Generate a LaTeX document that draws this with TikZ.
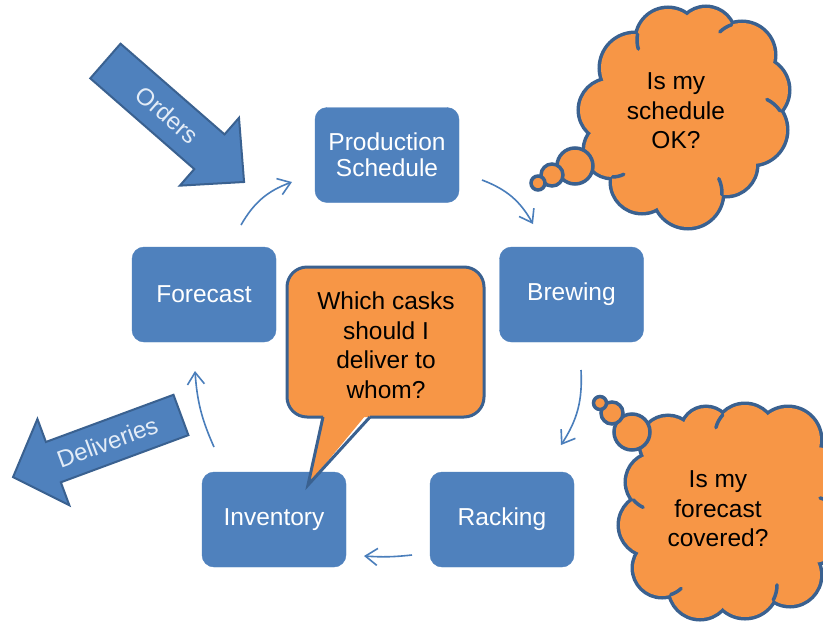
\documentclass[tikz,border=0pt]{standalone}
\usepackage{fontspec}
\setmainfont{Liberation Sans}
\usetikzlibrary{arrows.meta,calc}
\definecolor{boxblue}{HTML}{4F81BD}
\definecolor{edgeblue}{HTML}{3A6190}
\definecolor{linkblue}{HTML}{4A7EBB}
\definecolor{thought}{HTML}{F79646}
\definecolor{arrowtext}{HTML}{E3ECF7}

% short inner arc where two puffs of a cloud meet:
% puff 1 = (#1,#2) radius #3, puff 2 = (#4,#5) radius #6, sweep #7 degrees
\newcommand{\puffstub}[7]{%
  \pgfmathsetmacro{\cldx}{#4-#1}\pgfmathsetmacro{\cldy}{#5-#2}%
  \pgfmathsetmacro{\cld}{veclen(\cldx,\cldy)}%
  \pgfmathsetmacro{\cla}{(#3*#3-#6*#6+\cld*\cld)/(2*\cld)}%
  \pgfmathsetmacro{\clh}{sqrt(max(#3*#3-\cla*\cla,0))}%
  \pgfmathsetmacro{\clcx}{#1+\cla*\cldx/\cld+\clh*\cldy/\cld}%
  \pgfmathsetmacro{\clcy}{#2+\cla*\cldy/\cld-\clh*\cldx/\cld}%
  \pgfmathsetmacro{\clang}{atan2(\clcy-#5,\clcx-#4)}%
  \draw[puffline] (\clcx,\clcy) arc[start angle=\clang, delta angle=-#7, radius=#6];%
}

\begin{document}
\begin{tikzpicture}[x=1pt,y=-1pt,
  stage/.style={rectangle, rounded corners=12pt, fill=boxblue, draw=boxblue,
    text=white, minimum width=144pt, minimum height=95pt, inner sep=0pt,
    align=center, font=\fontsize{24.5}{26}\selectfont},
  link/.style={draw=linkblue, line width=1.6pt,
    -{Straight Barb[length=12pt,width=17pt]}},
  blockarrow/.style={fill=boxblue, draw=edgeblue, line width=2pt, line join=miter},
  arrowlabel/.style={text=arrowtext, inner sep=0pt, font=\fontsize{24}{26}\selectfont},
  puffline/.style={draw=edgeblue, line width=3.5pt, line cap=round},
  bubble/.style={circle, fill=thought, draw=edgeblue, line width=3.5pt, inner sep=0pt},
  qtext/.style={align=center, inner sep=0pt, text=black,
    font=\fontsize{24.5}{29.5}\selectfont},
]
\fill[white] (0,0) rectangle (823,622);
\useasboundingbox (0,0) rectangle (823,622);

% process stages
\node[stage] (ps) at (387,155)   {Production\\Schedule};
\node[stage] (br) at (571.5,294.5) {Brewing};
\node[stage] (rk) at (502,519.5) {Racking};
\node[stage] (inv) at (274,519.5) {Inventory};
\node[stage] (fc) at (204,294.5) {Forecast};

% end points of the cycle links
\coordinate (fc-out) at (241,225);  \coordinate (ps-in) at (292,182);
\coordinate (ps-out) at (482,180);  \coordinate (br-in) at (533,224);
\coordinate (br-out) at (581,370);  \coordinate (rk-in) at (561,445);
\coordinate (rk-out) at (412,555);  \coordinate (inv-in) at (364,556);
\coordinate (inv-out) at (214,447); \coordinate (fc-in) at (195,371);

\draw[link] (fc-out) to[bend left=20] (ps-in);
\draw[link] (ps-out) to[bend left=20] (br-in);
\draw[link] (br-out) to[bend left=18] (rk-in);
\draw[link] (rk-out) to[bend left=5] (inv-in);
\draw[link] (inv-out) to[bend left=10] (fc-in);

% incoming orders
\begin{scope}[shift={(174.75,121.5)}, rotate=-41.1]
  \draw[blockarrow] (-92,-23) -- (46,-23) -- (46,-45) -- (92,0)
    -- (46,45) -- (46,23) -- (-92,23) -- cycle;
  \node[arrowlabel, rotate=-41.1] (orders) at (-10,0) {Orders};
\end{scope}

% outgoing deliveries
\begin{scope}[shift={(97,446)}, rotate=200.3]
  \draw[blockarrow] (-89.5,-21.5) -- (46.5,-21.5) -- (46.5,-46) -- (89.5,0)
    -- (46.5,46) -- (46.5,21.5) -- (-89.5,21.5) -- cycle;
  \node[arrowlabel, rotate=20.3] (deliveries) at (-11,0) {Deliveries};
\end{scope}

% speech callout from the inventory
\fill[thought, rounded corners=20pt] (287,267) rectangle (484,417);
\fill[thought] (323,410) -- (308,485) -- (370,410) -- cycle;
\draw[edgeblue, line width=3pt, rounded corners=20pt]
  (370,417) -- (484,417) -- (484,267) -- (287,267) -- (287,417) -- (323,417);
\draw[edgeblue, line width=3pt, line join=miter] (323,417) -- (308,485) -- (370,417);
\node[qtext] (callout) at (386,345) {Which casks\\should I\\deliver to\\whom?};

% thought clouds: a ring of puffs round an oval core
\def\cloudApuffs{610/110/30, 635/68/34, 668/40/31, 706/36/28, 742/55/32,
  756/90/32, 752/130/34, 726/165/30, 688/193/34, 642/182/30, 612/150/27}
\def\cloudBpuffs{668/444/27, 706/432/24, 745/435/30, 788/440/32, 815/480/33,
  812/530/33, 790/575/30, 745/585/32, 700/588/30, 662/568/28, 650/525/30,
  655/482/28}

% thought about the schedule
\foreach \px/\py/\pr in \cloudApuffs
  \draw[edgeblue, line width=7pt] (\px,\py) circle[radius=\pr];
\fill[thought] (684,115) ellipse[x radius=85, y radius=88];
\foreach \px/\py/\pr in \cloudApuffs
  \fill[thought] (\px,\py) circle[radius=\pr];
\puffstub{635}{68}{34}{668}{40}{31}{28}
\puffstub{706}{36}{28}{742}{55}{32}{25}
\puffstub{756}{90}{32}{752}{130}{34}{30}
\puffstub{726}{165}{30}{688}{193}{34}{28}
\puffstub{642}{182}{30}{612}{150}{27}{25}
\node[bubble, minimum size=36pt] (a1) at (575,166) {};
\node[bubble, minimum size=22pt] (a2) at (552,175) {};
\node[bubble, minimum size=14pt] (a3) at (538,183) {};
\node[qtext] (qa) at (676,111) {Is my\\schedule\\OK?};

% thought about the forecast
\foreach \px/\py/\pr in \cloudBpuffs
  \draw[edgeblue, line width=7pt] (\px,\py) circle[radius=\pr];
\fill[thought] (730,511) ellipse[x radius=85, y radius=86];
\foreach \px/\py/\pr in \cloudBpuffs
  \fill[thought] (\px,\py) circle[radius=\pr];
\puffstub{706}{432}{24}{745}{435}{30}{28}
\puffstub{815}{480}{33}{812}{530}{33}{30}
\puffstub{790}{575}{30}{745}{585}{32}{28}
\puffstub{700}{588}{30}{662}{568}{28}{25}
\puffstub{650}{525}{30}{655}{482}{28}{25}
\node[bubble, minimum size=36pt] (b1) at (632,432) {};
\node[bubble, minimum size=22pt] (b2) at (612,413) {};
\node[bubble, minimum size=13pt] (b3) at (600,403) {};
\node[qtext] (qb) at (718,509) {Is my\\forecast\\covered?};
\end{tikzpicture}
\end{document}
